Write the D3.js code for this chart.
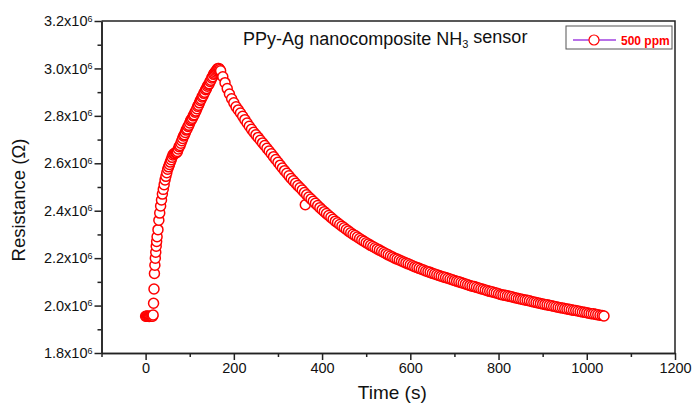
<!DOCTYPE html>
<html>
<head>
<meta charset="utf-8">
<script src="https://cdn.jsdelivr.net/npm/d3@7"></script>
<style>
body { margin: 0; background: #fff; }
svg { display: block; font-family: "Liberation Sans", Arial, sans-serif; }
.axis path, .axis line { stroke: #222; stroke-width: 1.5; }
.axis text { font-size: 14.5px; fill: #111; }
</style>
</head>
<body>
<svg width="692" height="404"></svg>
<script>
'use strict';

////////////////////////////// data ///////////////////////////////
var xTicks = [0, 200, 400, 600, 800, 1000, 1200];
var xMinorTicks = [-100, 100, 300, 500, 700, 900, 1100];
var yTicks = [1.8, 2.0, 2.2, 2.4, 2.6, 2.8, 3.0, 3.2];
var yMinorTicks = [1.9, 2.1, 2.3, 2.5, 2.7, 2.9, 3.1];
var seriesName = '500 ppm';

// [time (s), resistance (x10^6 ohm)]
var baseline = [
    [0, 1.955], [2, 1.955], [4, 1.956], [6, 1.955], [8, 1.954],
    [10, 1.955], [12, 1.955], [14, 1.956], [16, 1.955]
];
var rise = [
    [17, 1.96], [18, 2.01], [19, 2.07], [20, 2.135], [21, 2.17], [22, 2.2],
    [23, 2.225], [24, 2.25], [25, 2.27], [26, 2.29], [28, 2.32], [30, 2.36],
    [32, 2.39], [34, 2.42], [36, 2.445], [38, 2.47], [40, 2.49], [42, 2.51],
    [44, 2.53], [46, 2.545], [48, 2.56], [50, 2.575], [52, 2.585], [54, 2.595],
    [56, 2.605], [58, 2.615], [60, 2.625], [62, 2.635], [64, 2.64], [66, 2.64],
    [68, 2.645], [70, 2.645], [72, 2.65], [74, 2.66], [76, 2.67], [78, 2.675],
    [80, 2.685], [82, 2.695], [84, 2.705], [86, 2.715], [88, 2.72], [90, 2.73],
    [92, 2.74], [94, 2.745], [96, 2.755], [98, 2.76], [100, 2.77], [102, 2.78],
    [104, 2.785], [106, 2.79], [108, 2.8], [110, 2.805], [112, 2.815], [114, 2.82],
    [116, 2.83], [118, 2.84], [120, 2.845], [122, 2.855], [124, 2.865], [126, 2.87],
    [128, 2.88], [130, 2.885], [132, 2.895], [134, 2.9], [136, 2.91], [138, 2.915],
    [140, 2.925], [142, 2.93], [144, 2.935], [146, 2.945], [148, 2.95], [150, 2.96],
    [152, 2.965], [154, 2.975], [156, 2.98], [158, 2.985], [160, 2.99], [162, 2.995],
    [164, 3.0], [166, 3.0], [168, 2.995]
];
var recovery = [
    [170, 2.99], [175, 2.965], [180, 2.94], [185, 2.915], [190, 2.892], [195, 2.872],
    [200, 2.855], [205, 2.838], [210, 2.825], [215, 2.812], [220, 2.798], [225, 2.784],
    [230, 2.77], [235, 2.756], [240, 2.743], [245, 2.731], [250, 2.72], [255, 2.709],
    [260, 2.697], [265, 2.686], [270, 2.675], [275, 2.663], [280, 2.652], [285, 2.64],
    [290, 2.628], [295, 2.616], [300, 2.604], [305, 2.592], [310, 2.58], [315, 2.569],
    [320, 2.558], [325, 2.547], [330, 2.536], [335, 2.526], [340, 2.516], [345, 2.506],
    [350, 2.497], [355, 2.487], [360, 2.477], [362, 2.425], [365, 2.467], [370, 2.458],
    [375, 2.449], [380, 2.44], [385, 2.431], [390, 2.422], [395, 2.413], [400, 2.404],
    [405, 2.396], [410, 2.388], [415, 2.38], [420, 2.372], [425, 2.364], [430, 2.356],
    [435, 2.349], [440, 2.342], [445, 2.335], [450, 2.328], [455, 2.321], [460, 2.314],
    [465, 2.307], [470, 2.301], [475, 2.295], [480, 2.289], [485, 2.283], [490, 2.277],
    [495, 2.271], [500, 2.265], [505, 2.26], [510, 2.254], [515, 2.249], [520, 2.244],
    [525, 2.239], [530, 2.234], [535, 2.229], [540, 2.224], [545, 2.219], [550, 2.214],
    [555, 2.209], [560, 2.205], [565, 2.2], [570, 2.196], [575, 2.192], [580, 2.188],
    [585, 2.184], [590, 2.18], [595, 2.176], [600, 2.172], [605, 2.168], [610, 2.164],
    [615, 2.161], [620, 2.157], [625, 2.153], [630, 2.15], [635, 2.146], [640, 2.143],
    [645, 2.14], [650, 2.136], [655, 2.133], [660, 2.13], [665, 2.127], [670, 2.124],
    [675, 2.121], [680, 2.118], [685, 2.115], [690, 2.112], [695, 2.109], [700, 2.106],
    [705, 2.103], [710, 2.1], [715, 2.097], [720, 2.094], [725, 2.091], [730, 2.088],
    [735, 2.085], [740, 2.082], [745, 2.08], [750, 2.077], [755, 2.074], [760, 2.071],
    [765, 2.069], [770, 2.066], [775, 2.063], [780, 2.06], [785, 2.058], [790, 2.055],
    [795, 2.053], [800, 2.05], [805, 2.047], [810, 2.045], [815, 2.043], [820, 2.041],
    [825, 2.039], [830, 2.037], [835, 2.034], [840, 2.032], [845, 2.03], [850, 2.028],
    [855, 2.026], [860, 2.024], [865, 2.022], [870, 2.02], [875, 2.017], [880, 2.015],
    [885, 2.013], [890, 2.011], [895, 2.009], [900, 2.007], [905, 2.005], [910, 2.003],
    [915, 2.001], [920, 1.999], [925, 1.997], [930, 1.995], [935, 1.993], [940, 1.991],
    [945, 1.99], [950, 1.988], [955, 1.986], [960, 1.984], [965, 1.982], [970, 1.98],
    [975, 1.979], [980, 1.977], [985, 1.975], [990, 1.973], [995, 1.972], [1000, 1.97],
    [1005, 1.968], [1010, 1.966], [1015, 1.965], [1020, 1.963], [1025, 1.961],
    [1030, 1.959], [1035, 1.958], [1039, 1.956]
];
var readings = baseline.concat(rise, recovery);

///////////////////////////// set up ///////////////////////////////
var margin = {top: 21, right: 17, bottom: 51, left: 101.5},
    svg = d3.select('svg'),
    width = +svg.attr('width') - margin.left - margin.right,
    height = +svg.attr('height') - margin.top - margin.bottom,
    canvas = svg.append('g').attr('transform', 'translate(' + margin.left + ',' + margin.top + ')');

var x = d3.scaleLinear().domain([-100, 1200]).range([0, width]);
var y = d3.scaleLinear().domain([1.8, 3.2]).range([height, 0]);

// x axis, major + minor
canvas.append('g')
    .attr('class', 'axis axis--x')
    .attr('transform', 'translate(0,' + height + ')')
    .call(d3.axisBottom(x).tickValues(xMinorTicks).tickSize(4).tickSizeOuter(0).tickFormat(''));
canvas.append('g')
    .attr('class', 'axis axis--x')
    .attr('transform', 'translate(0,' + height + ')')
    .call(d3.axisBottom(x).tickValues(xTicks).tickSize(7).tickSizeOuter(0).tickPadding(3)
        .tickFormat(d3.format('d')));

// y axis, major + minor
canvas.append('g')
    .attr('class', 'axis axis--y')
    .call(d3.axisLeft(y).tickValues(yMinorTicks).tickSize(4).tickSizeOuter(0).tickFormat(''));
var yAxis = canvas.append('g')
    .attr('class', 'axis axis--y')
    .call(d3.axisLeft(y).tickValues(yTicks).tickSize(7).tickSizeOuter(0).tickPadding(2));
yAxis.selectAll('.tick text').each(function(d) {
    var t = d3.select(this).text(d.toFixed(1) + 'x10');
    t.append('tspan').attr('dy', '-0.5em').attr('font-size', '9px').text('6');
});

// frame top + right
canvas.append('path')
    .attr('d', 'M0,0H' + width + 'V' + height)
    .attr('fill', 'none')
    .attr('stroke', '#222')
    .attr('stroke-width', 1.5);

// markers
canvas.selectAll('.pt')
    .data(readings)
    .enter()
    .append('circle')
    .attr('class', 'pt')
    .attr('cx', function(d) { return x(d[0]); })
    .attr('cy', function(d) { return y(d[1]); })
    .attr('r', 5)
    .attr('fill', '#fff')
    .attr('stroke', '#ff0000')
    .attr('stroke-width', 1.5);

// title
var title = canvas.append('text')
    .attr('x', width / 2 - 3)
    .attr('y', 24)
    .attr('text-anchor', 'middle')
    .attr('font-size', '18px')
    .attr('fill', '#111');
title.append('tspan').text('PPy-Ag nanocomposite NH');
title.append('tspan').attr('dy', '0.3em').attr('font-size', '11px').text('3');
title.append('tspan').attr('dy', '-0.3em').text(' sensor');

// axis labels
svg.append('text')
    .attr('x', margin.left + width / 2 + 4)
    .attr('y', 399)
    .attr('text-anchor', 'middle')
    .attr('font-size', '19px')
    .attr('fill', '#111')
    .text('Time (s)');
svg.append('text')
    .attr('transform', 'translate(25,200) rotate(-90)')
    .attr('text-anchor', 'middle')
    .attr('font-size', '18.5px')
    .attr('fill', '#111')
    .text('Resistance (\u03A9)');

// legend
var legend = svg.append('g').attr('transform', 'translate(566,26)');
legend.append('rect')
    .attr('width', 106).attr('height', 23)
    .attr('fill', '#fff').attr('stroke', '#555').attr('stroke-width', 1);
legend.append('line')
    .attr('x1', 7).attr('x2', 50).attr('y1', 14).attr('y2', 14)
    .attr('stroke', '#a040e0').attr('stroke-width', 1.5);
legend.append('circle')
    .attr('cx', 28).attr('cy', 14).attr('r', 5)
    .attr('fill', '#fff').attr('stroke', '#ff0000').attr('stroke-width', 1.2);
legend.append('text')
    .attr('x', 55).attr('y', 18.5)
    .attr('font-size', '12px').attr('font-weight', 'bold').attr('fill', '#ff0000')
    .text(seriesName);
</script>
</body>
</html>
